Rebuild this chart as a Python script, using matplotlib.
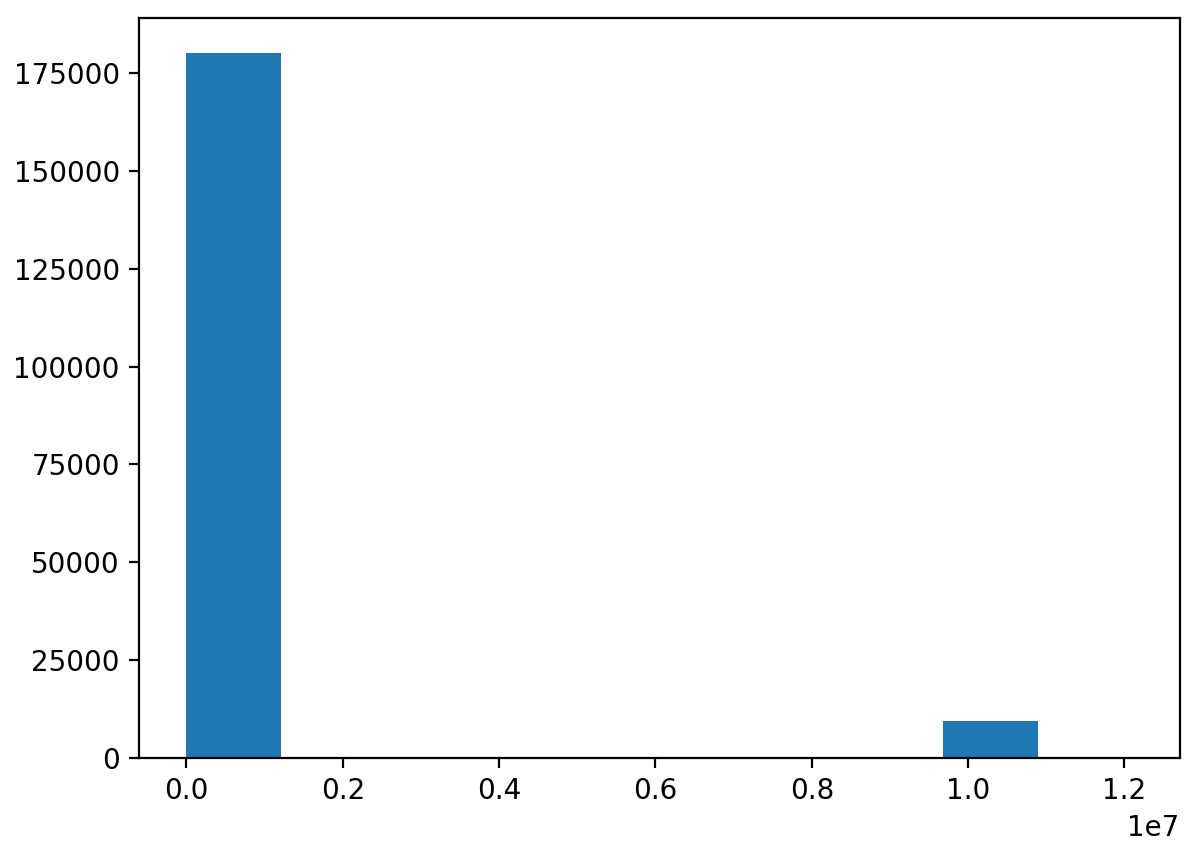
import numpy as np
import matplotlib.pyplot as plt

# histogram counts (10 bins from 0 to max value)
bin_edges = np.linspace(0, 1.21e7, 11)
counts = [180100, 0, 0, 0, 0, 0, 0, 0, 9440, 1]

centers = (bin_edges[:-1] + bin_edges[1:]) / 2

fig = plt.figure(figsize=(6.0, 4.28), dpi=200)
ax = fig.add_subplot(111)
fig.subplots_adjust(left=0.116, right=0.983, top=0.979, bottom=0.1145)

ax.hist(centers, bins=bin_edges, weights=counts)

fig.savefig('out.png', dpi=200)
